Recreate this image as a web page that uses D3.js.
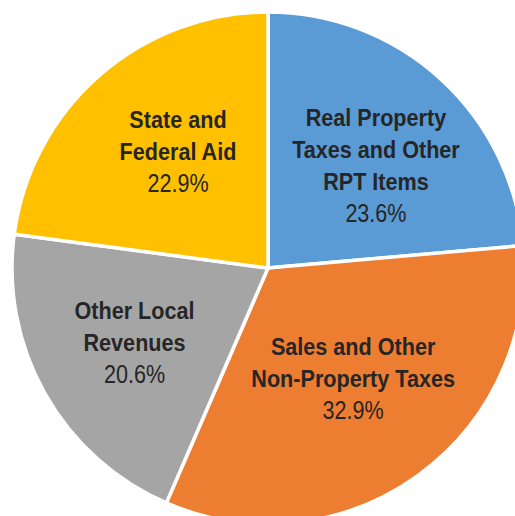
<!DOCTYPE html>
<html>
<head>
<meta charset="utf-8">
<script src="https://cdn.jsdelivr.net/npm/d3@7"></script>
<style>
  body { margin: 0; background: #fff; }
  svg { display: block; }
  .lbl { font-family: "Liberation Sans Narrow", "Arial Narrow", "Liberation Sans", Arial, sans-serif; fill: #262626; }
</style>
</head>
<body>
<div id="chart"></div>
<script>
// Datos del gráfico
const categories = [
  ["Real Property", "Taxes and Other", "RPT Items"],
  ["Sales and Other", "Non-Property Taxes"],
  ["Other Local", "Revenues"],
  ["State and", "Federal Aid"]
];
const values = [23.6, 32.9, 20.6, 22.9];
const colors = ["#5B9BD5", "#ED7D31", "#A5A5A5", "#FFC000"];

// Ajuste fino de las etiquetas respecto al centroide
const labelNudge = [[8, 15], [-1.5, -1], [-4.7, 9.6], [7.5, 3.8]];

const width = 515, height = 516;
const cx = 268, cy = 268, radius = 256;

const svg = d3.select("#chart").append("svg")
  .attr("width", width)
  .attr("height", height);

const g = svg.append("g").attr("transform", `translate(${cx},${cy})`);

const pie = d3.pie().sort(null).value(d => d);
const arcs = pie(values);

const arc = d3.arc().innerRadius(0).outerRadius(radius);
const labelArc = d3.arc().innerRadius(148).outerRadius(148);

g.selectAll("path")
  .data(arcs)
  .join("path")
  .attr("d", arc)
  .attr("fill", (d, i) => colors[i])
  .attr("stroke", "#fff")
  .attr("stroke-width", 3.5)
  .attr("stroke-linejoin", "miter");

// Etiquetas (fuente estrecha simulada con scaleX)
const lineH = 32;
arcs.forEach((d, i) => {
  const [x0, y0] = labelArc.centroid(d);
  const x = x0 + labelNudge[i][0];
  const y = y0 + labelNudge[i][1];
  const lines = categories[i].map(s => ({ s, bold: true }));
  lines.push({ s: values[i].toFixed(1) + "%", bold: false });
  const n = lines.length;
  lines.forEach((l, k) => {
    const by = y + (k - (n - 1) / 2) * lineH;
    g.append("text")
      .attr("class", "lbl")
      .attr("text-anchor", "middle")
      .attr("transform", `translate(${x},${by}) scale(${l.bold ? 0.9 : 0.83},1)`)
      .attr("font-size", l.bold ? 24 : 26)
      .attr("font-weight", l.bold ? "bold" : "normal")
      .text(l.s);
  });
});
</script>
</body>
</html>
